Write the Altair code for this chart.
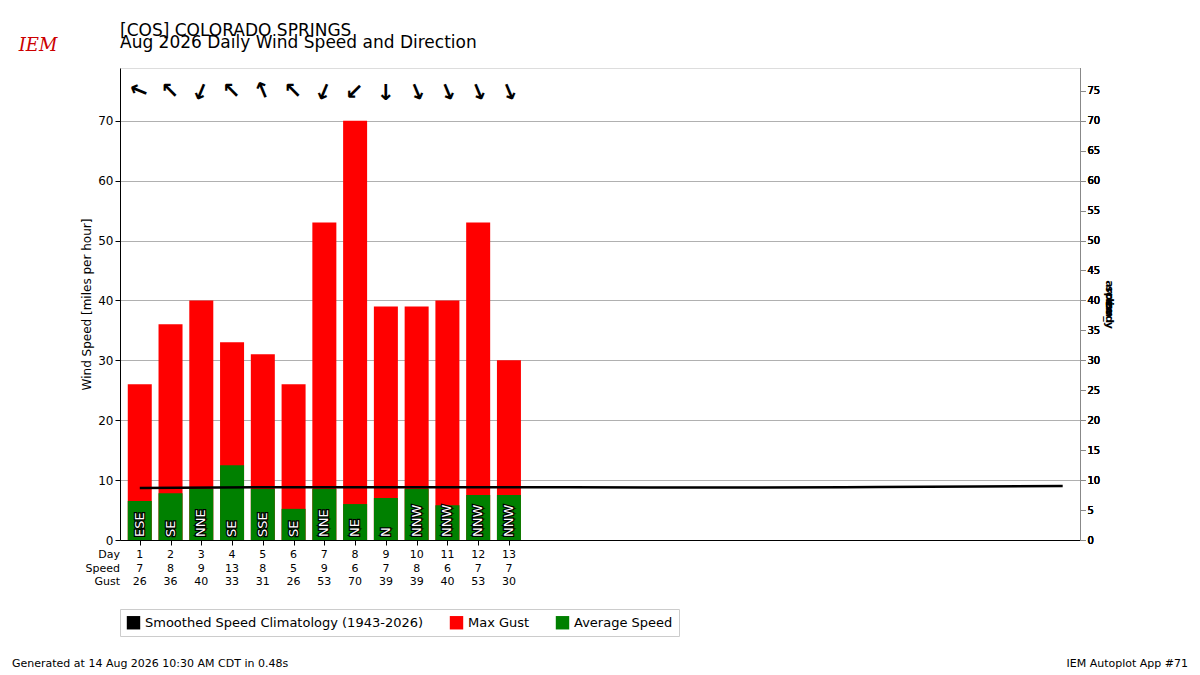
import altair as alt
import pandas as pd

days = list(range(1, 14))
speed_lbl = [7, 8, 9, 13, 8, 5, 9, 6, 7, 8, 6, 7, 7]
speed = [6.5, 7.8, 8.5, 12.5, 8.5, 5.2, 8.5, 6.0, 7.0, 8.5, 5.8, 7.5, 7.5]
gust = [26, 36, 40, 33, 31, 26, 53, 70, 39, 39, 40, 53, 30]
dirs = ["ESE", "SE", "NNE", "SE", "SSE", "SE", "NNE", "NE", "N", "NNW", "NNW", "NNW", "NNW"]
dir_deg = [112.5, 135, 22.5, 135, 157.5, 135, 22.5, 45, 0, 337.5, 337.5, 337.5, 337.5]
clim_days = [1, 5, 10, 15, 20, 25, 31]
clim = [8.7, 8.8, 8.8, 8.8, 8.75, 8.85, 9.0]
titles = ["[COS] COLORADO SPRINGS", "Aug 2026 Daily Wind Speed and Direction"]

df = pd.DataFrame({"day": days, "speed": speed, "spd": speed_lbl, "gust": gust,
                   "dir": dirs, "ang": [(d + 180) % 360 for d in dir_deg]})
df["arrow_y"] = 75
cl = pd.DataFrame({"day": clim_days, "clim": clim})

xs = alt.Scale(domain=[0.52, 31.4], nice=False, zero=False)
ys = alt.Scale(domain=[0, 78.8], nice=False)
X = alt.X("day:Q", scale=xs, title=None,
          axis=alt.Axis(values=days, labels=False, grid=False, tickColor="black", domainColor="black"))
names = ["Smoothed Speed Climatology (1943-2026)", "Max Gust", "Average Speed"]
col = alt.Scale(domain=names, range=["black", "red", "green"])

base = alt.Chart(df)
gusts = base.mark_bar(size=24).encode(
    x=X,
    y=alt.Y("gust:Q", scale=ys, title="Wind Speed [miles per hour]",
            axis=alt.Axis(values=list(range(0, 71, 10)), gridColor="#b0b0b0", domainColor="black",
                          tickColor="black", labelFontSize=12, titleFontSize=12, titleFontWeight="normal")),
    color=alt.Color("k:N", scale=col, title=None,
                    legend=alt.Legend(orient="none", legendX=0, legendY=541, direction="horizontal",
                                      symbolType="square", symbolSize=180, labelFontSize=13, labelLimit=0,
                                      strokeColor="#cccccc", padding=6, columnPadding=25)),
).transform_calculate(k="'Max Gust'")
avg = base.mark_bar(size=24).encode(
    x=X, y=alt.Y("speed:Q", scale=ys),
    color=alt.Color("k:N", scale=col)).transform_calculate(k="'Average Speed'")
dlab_bg = base.mark_text(angle=270, align="left", baseline="middle", dx=3, color="black",
                         fontSize=13, stroke="black", strokeWidth=2.5).encode(
    x=X, y=alt.Y("z:Q", scale=ys), text="dir:N").transform_calculate(z="0")
dlab = base.mark_text(angle=270, align="left", baseline="middle", dx=3, color="white",
                      fontSize=13).encode(
    x=X, y=alt.Y("z:Q", scale=ys), text="dir:N").transform_calculate(z="0")
arrows = base.mark_text(fontSize=22, baseline="middle", fontWeight="bold").encode(
    x=X, y=alt.Y("arrow_y:Q", scale=ys), text=alt.value("↑"), angle=alt.Angle("ang:Q", scale=None))
line = alt.Chart(cl).mark_line(color="black", strokeWidth=2.5, interpolate="monotone").encode(
    x=alt.X("day:Q", scale=xs), y=alt.Y("clim:Q", scale=ys))

rows = []
for i, (lbl, fld) in enumerate([("Day", "day"), ("Speed", "spd"), ("Gust", "gust")]):
    yy = 472 + 15 + 13.5 * i
    rows.append(base.mark_text(fontSize=11).encode(
        x=alt.X("day:Q", scale=xs), y=alt.value(yy), text=f"{fld}:Q"))
    rows.append(alt.Chart(pd.DataFrame({"t": [lbl]})).mark_text(fontSize=11, align="right").encode(
        x=alt.value(0), y=alt.value(yy), text="t:N"))

ttl = alt.Chart(pd.DataFrame({"t": titles, "i": [0, 1]})).mark_text(
    fontSize=17, align="left", baseline="middle").encode(
    x=alt.value(0), y=alt.Y("i:O", scale=alt.Scale(domain=[0, 1], range=[-43, -19]), axis=None), text="t:N")
foot_l = alt.Chart(pd.DataFrame({"t": ["Generated at 14 Aug 2026 10:30 AM CDT in 0.48s"]})).mark_text(
    fontSize=11, align="left").encode(x=alt.value(-108), y=alt.value(596), text="t:N")
foot_r = alt.Chart(pd.DataFrame({"t": ["IEM Autoplot App #71"]})).mark_text(fontSize=11, align="right").encode(
    x=alt.value(1068), y=alt.value(596), text="t:N")
logo = alt.Chart(pd.DataFrame({"t": ["IEM"]})).mark_text(
    fontSize=18, color="#cc0000", fontStyle="italic", font="DejaVu Serif").encode(
    x=alt.value(-82), y=alt.value(-22), text="t:N")

chart = alt.layer(gusts, avg, line, dlab_bg, dlab, arrows, *rows, ttl, foot_l, foot_r, logo).properties(
    width=960, height=472,
    autosize=alt.AutoSizeParams(type="none"),
    padding={"left": 112, "top": 60, "right": 112, "bottom": 135},
).resolve_scale(y="independent").configure_view(stroke="black").configure(font="DejaVu Sans")

chart.save("out.html", embed_options={"renderer": "svg", "actions": False})
